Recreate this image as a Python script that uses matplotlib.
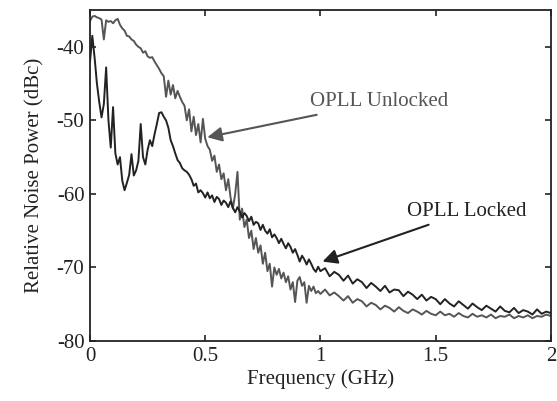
import numpy as np
import matplotlib.pyplot as plt

# frequency grid (GHz): fine up to 1 GHz, coarser after
freq = np.concatenate((np.linspace(0, 1.0, 101), np.linspace(1.02, 2.0, 50)))

# OPLL unlocked (gray)
unlocked = [
    -36.5, -35.9, -35.8, -36.0, -36.1, -36.3, -39.0, -36.4, -36.6, -36.5,
    -36.8, -36.4, -36.2, -37.0, -37.5, -37.8, -38.5, -38.6, -39.0, -39.2,
    -39.7, -40.0, -40.2, -40.8, -40.6, -41.3, -41.5, -41.4, -42.0, -42.5,
    -43.0, -43.6, -44.0, -46.8, -44.6, -46.5, -45.2, -47.0, -46.0, -46.8,
    -47.5, -48.0, -50.0, -48.5, -51.5, -49.5, -52.0, -50.5, -53.0, -49.8,
    -52.5, -53.5, -54.0, -55.5, -54.8, -57.0, -56.0, -58.0, -57.2, -59.5,
    -58.0, -60.5, -62.0, -60.0, -57.0, -63.5, -62.0, -64.5, -63.5, -66.0,
    -65.0, -67.5, -66.0, -68.0, -67.0, -69.5, -68.0, -70.5, -69.5, -72.6,
    -70.0, -71.0, -70.2, -71.5, -70.7, -72.0, -71.2, -73.0, -72.0, -74.7,
    -71.8, -71.3, -72.5, -72.0, -74.8, -72.5, -73.2, -72.6, -73.5, -73.2,
    -73.6,
    -73.0, -73.8, -73.4, -73.9, -74.5, -73.9, -74.8, -74.3, -74.6, -75.3,
    -74.8, -75.1, -75.7, -75.2, -75.5, -76.0, -75.4, -75.9, -76.2, -75.7,
    -76.0, -76.4, -75.9, -76.3, -76.5, -76.0, -76.5, -76.3, -76.7, -76.2,
    -76.6, -76.8, -76.3, -76.7, -76.5, -76.8, -76.4, -76.9, -76.6, -76.7,
    -76.4, -76.9, -76.6, -76.8, -76.5, -76.9, -76.6, -76.7, -76.4, -76.6,
]

# OPLL locked (dark)
locked = [
    -42.0, -38.5, -41.5, -45.0, -47.5, -49.6, -47.8, -42.8, -50.0, -53.7,
    -48.2, -54.5, -56.0, -55.0, -58.2, -59.5, -58.5, -57.4, -54.6, -57.5,
    -56.8, -55.5, -50.5, -55.0, -56.0, -54.0, -52.7, -53.5, -51.9, -50.5,
    -49.0, -48.9, -49.5, -50.0, -51.0, -52.7, -53.5, -54.5, -55.4, -55.8,
    -56.5, -56.8, -57.0, -57.4, -58.0, -58.9, -58.6, -59.8, -59.5, -59.9,
    -60.5, -59.8, -60.6, -60.2, -61.1, -60.4, -60.7, -61.5, -60.9, -61.2,
    -61.8, -61.0, -61.9, -62.5, -61.8, -62.4, -63.2, -62.6, -63.0, -63.7,
    -63.1, -64.2, -63.8, -64.0, -64.9, -64.2, -65.0, -65.4, -64.8, -65.9,
    -65.5, -66.0, -66.7, -66.1, -66.8, -67.4, -66.7, -67.2, -68.0, -67.5,
    -68.3, -69.2, -68.4, -68.9, -69.6, -68.9, -69.5, -70.2, -70.6, -69.9,
    -70.5,
    -70.1, -71.2, -70.6, -71.0, -71.8, -71.1, -72.2, -71.6, -72.0, -72.8,
    -72.1, -72.6, -73.2, -72.5, -73.4, -73.0, -73.1, -73.9, -73.3, -73.7,
    -74.3, -73.7, -74.5, -74.0, -74.3, -75.0, -74.3, -74.9, -75.3, -74.6,
    -75.1, -75.6, -74.9, -75.4, -75.8, -75.2, -75.6, -76.0, -75.3, -75.9,
    -76.1, -75.5, -76.2, -75.8, -76.0, -76.4, -75.7, -76.3, -76.0, -76.2,
]

xticks = [0, 0.5, 1, 1.5, 2]
xticklabels = ['0', '0.5', '1', '1.5', '2']
yticks = [-80, -70, -60, -50, -40]

plt.rcParams['font.family'] = 'Liberation Serif'
plt.rcParams['axes.unicode_minus'] = False
fig = plt.figure(figsize=(5.57, 4.01), dpi=100)
ax = fig.add_axes([0.1616, 0.1496, 0.8274, 0.8254])

ax.plot(freq, unlocked, color='#555555', lw=1.4)
ax.plot(freq, locked, color='#222222', lw=1.4)

ax.set_xlim(0, 2)
ax.set_ylim(-80, -35)
ax.set_xticks(xticks)
ax.set_xticklabels(xticklabels)
ax.set_yticks(yticks)
ax.tick_params(direction='in', top=True, right=True, length=4, width=1.2,
               labelsize=15, colors='#222222', pad=4)
for s in ax.spines.values():
    s.set_linewidth(1.3)
    s.set_color('#222222')

ax.set_xlabel('Frequency (GHz)', size=15, color='#222222', labelpad=3)
ax.set_ylabel('Relative Noise Power (dBc)', size=15, color='#222222', labelpad=9)

ax.annotate('OPLL Unlocked', xy=(0.509, -52.3), xytext=(0.955, -47.5),
            fontsize=15, color='#555555', va='center', ha='left',
            arrowprops=dict(arrowstyle='-|>', color='#555555', lw=1.5,
                            mutation_scale=22, shrinkA=2, shrinkB=0))
ax.annotate('OPLL Locked', xy=(1.009, -69.2), xytext=(1.375, -62.4),
            fontsize=15, color='#222222', va='center', ha='left',
            arrowprops=dict(arrowstyle='-|>', color='#222222', lw=1.5,
                            mutation_scale=22, shrinkA=2, shrinkB=0))

plt.savefig('out.png', dpi=100)
